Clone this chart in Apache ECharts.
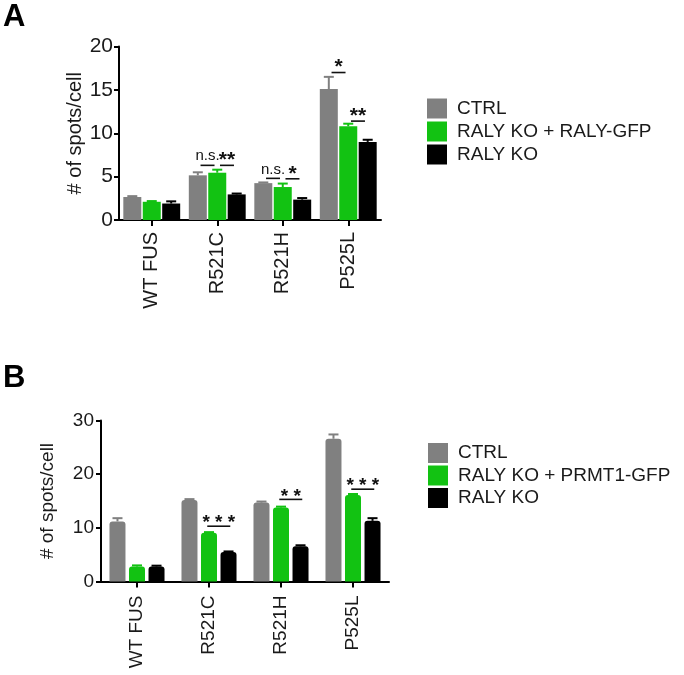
<!DOCTYPE html>
<html>
<head>
<meta charset="utf-8">
<script src="https://cdn.jsdelivr.net/npm/echarts@6/dist/echarts.min.js"></script>
<style>
html,body{margin:0;padding:0;background:#fff;}
#chart{width:684px;height:675px;}
</style>
</head>
<body>
<div id="chart"></div>
<script>
// ---------- data ----------
const categories = ['WT FUS', 'R521C', 'R521H', 'P525L'];

// Panel A
const ctrlA = [2.65, 5.15, 4.25, 15.1];
const ctrlAErr = [0.1, 0.35, 0.08, 1.4];
const rescueA = [2.1, 5.45, 3.8, 10.8];
const rescueAErr = [0.08, 0.35, 0.4, 0.3];
const koA = [1.9, 2.95, 2.35, 9.0];
const koAErr = [0.25, 0.1, 0.18, 0.25];
const yTicksA = { min: 0, max: 20, interval: 5 };
const legendA = ['CTRL', 'RALY KO + RALY-GFP', 'RALY KO'];
const sigACat = [1, 1, 2, 2, 3, 3];
const sigAFrom = [0, 1, 0, 1, 0, 1];
const sigAY = [6.3, 6.3, 4.8, 4.75, 17.0, 11.4];
const sigAText = ['n.s.', '**', 'n.s.', '*', '*', '**'];

// Panel B
const ctrlB = [11.2, 15.2, 14.7, 26.6];
const ctrlBErr = [0.6, 0.15, 0.2, 0.8];
const rescueB = [2.8, 9.1, 13.8, 16.1];
const rescueBErr = [0.2, 0.1, 0.15, 0.2];
const koB = [2.8, 5.5, 6.55, 11.3];
const koBErr = [0.15, 0.1, 0.2, 0.5];
const yTicksB = { min: 0, max: 30, interval: 10 };
const legendB = ['CTRL', 'RALY KO + PRMT1-GFP', 'RALY KO'];
const sigBCat = [1, 2, 3];
const sigBFrom = [1, 1, 1];
const sigBY = [10.3, 15.3, 17.2];
const sigBText = ['* * *', '* *', '* * *'];

// ---------- styles ----------
const GRAY = '#808080', GREEN = '#12c212', BLACK = '#000000';
const FONT = '"Liberation Sans", Arial, sans-serif';
const TXT = '#1a1a1a';
const BW_A = 18, GAP_A = 0.08, PITCH_A = BW_A * (1 + GAP_A);
const BW_B = 16, GAP_B = 0.22, PITCH_B = BW_B * (1 + GAP_B);

function errSeries(axis, vals, errs, slot, pitch, color, capHalf) {
  return {
    type: 'custom', xAxisIndex: axis, yAxisIndex: axis, silent: true, z: 1,
    data: vals.map((v, i) => [i, v, errs[i]]),
    renderItem: function (params, api) {
      const base = api.coord([api.value(0), api.value(1)]);
      const top = api.coord([api.value(0), api.value(1) + api.value(2)]);
      const x = base[0] + (slot - 1) * pitch;
      return {
        type: 'group', children: [
          { type: 'line', shape: { x1: x, y1: base[1], x2: x, y2: top[1] }, style: { stroke: color, lineWidth: 2 } },
          { type: 'line', shape: { x1: x - capHalf, y1: top[1], x2: x + capHalf, y2: top[1] }, style: { stroke: color, lineWidth: 2 } }
        ]
      };
    }
  };
}

function sigSeries(axis, cats, froms, ys, texts, pitch, halfLen, starSize, starLift) {
  return {
    type: 'custom', xAxisIndex: axis, yAxisIndex: axis, silent: true, z: 5,
    data: cats.map((c, i) => [c, ys[i]]),
    renderItem: function (params, api) {
      const i = params.dataIndex;
      const p = api.coord([api.value(0), api.value(1)]);
      const mid = p[0] + (froms[i] - 0.5) * pitch;
      const t = texts[i];
      const isNS = t === 'n.s.';
      return {
        type: 'group', children: [
          { type: 'line', shape: { x1: mid - halfLen, y1: p[1], x2: mid + halfLen, y2: p[1] }, style: { stroke: '#111', lineWidth: 1.6 } },
          {
            type: 'text', x: mid, y: isNS ? p[1] - 9 : p[1] - starLift,
            style: {
              text: t, fill: '#111', align: 'center', verticalAlign: 'middle',
              fontFamily: FONT, fontSize: isNS ? 15 : starSize, fontWeight: isNS ? 'normal' : 'bold'
            }
          }
        ]
      };
    }
  };
}

function barSeries(axis, name, vals, color, bw, gap, radius) {
  return {
    type: 'bar', name: name, xAxisIndex: axis, yAxisIndex: axis, data: vals,
    barWidth: bw, barGap: (gap * 100) + '%', z: 2,
    itemStyle: { color: color, borderRadius: radius }
  };
}

const axisLineStyle = { show: true, lineStyle: { color: '#000', width: 2 } };

const option = {
  animation: false,
  backgroundColor: '#fff',
  textStyle: { fontFamily: FONT },
  graphic: [
    { type: 'text', left: 3, top: 2, style: { text: 'A', fontFamily: FONT, fontWeight: 'bold', fontSize: 31, fill: '#000' } },
    { type: 'text', left: 3, top: 363, style: { text: 'B', fontFamily: FONT, fontWeight: 'bold', fontSize: 31, fill: '#000' } }
  ],
  legend: [
    {
      data: legendA, orient: 'vertical', left: 427, top: 98.5, padding: 0, itemWidth: 20, itemHeight: 20, itemGap: 3,
      icon: 'rect', selectedMode: false,
      textStyle: { fontSize: 19, color: TXT, fontFamily: FONT, padding: [0, 0, 0, 5] }
    },
    {
      data: legendB, orient: 'vertical', left: 428, top: 443, padding: 0, itemWidth: 20, itemHeight: 20, itemGap: 2.5,
      icon: 'rect', selectedMode: false,
      textStyle: { fontSize: 19, color: TXT, fontFamily: FONT, padding: [0, 0, 0, 5] }
    }
  ],
  grid: [
    { left: 119, top: 46.5, width: 262, height: 173.5 },
    { left: 101, top: 420.5, width: 288, height: 161 }
  ],
  xAxis: [
    {
      type: 'category', gridIndex: 0, data: categories,
      axisLine: axisLineStyle,
      axisTick: { show: true, alignWithLabel: true, length: 6, lineStyle: { color: '#000', width: 2 } },
      axisLabel: { rotate: 90, margin: 12, fontSize: 20, color: TXT, fontFamily: FONT, interval: 0 }
    },
    {
      type: 'category', gridIndex: 1, data: categories,
      axisLine: axisLineStyle,
      axisTick: { show: true, alignWithLabel: true, length: 6, lineStyle: { color: '#000', width: 2 } },
      axisLabel: { rotate: 90, margin: 14, fontSize: 19, color: TXT, fontFamily: FONT, interval: 0 }
    }
  ],
  yAxis: [
    {
      type: 'value', gridIndex: 0, min: yTicksA.min, max: yTicksA.max, interval: yTicksA.interval,
      name: '# of spots/cell', nameLocation: 'middle', nameGap: 34, nameRotate: 90,
      nameTextStyle: { fontSize: 20, color: TXT, fontFamily: FONT },
      axisLine: axisLineStyle,
      axisTick: { show: true, length: 5, lineStyle: { color: '#000', width: 2 } },
      axisLabel: { fontSize: 21, margin: 6, color: TXT, fontFamily: FONT },
      splitLine: { show: false }
    },
    {
      type: 'value', gridIndex: 1, min: yTicksB.min, max: yTicksB.max, interval: yTicksB.interval,
      name: '# of spots/cell', nameLocation: 'middle', nameGap: 44, nameRotate: 90,
      nameTextStyle: { fontSize: 19, color: TXT, fontFamily: FONT },
      axisLine: axisLineStyle,
      axisTick: { show: true, length: 5, lineStyle: { color: '#000', width: 2 } },
      axisLabel: { fontSize: 19, margin: 7, color: TXT, fontFamily: FONT },
      splitLine: { show: false }
    }
  ],
  series: [
    barSeries(0, legendA[0], ctrlA, GRAY, BW_A, GAP_A, 0),
    barSeries(0, legendA[1], rescueA, GREEN, BW_A, GAP_A, 0),
    barSeries(0, legendA[2], koA, BLACK, BW_A, GAP_A, 0),
    errSeries(0, ctrlA, ctrlAErr, 0, PITCH_A, GRAY, 5),
    errSeries(0, rescueA, rescueAErr, 1, PITCH_A, GREEN, 5),
    errSeries(0, koA, koAErr, 2, PITCH_A, BLACK, 5),
    sigSeries(0, sigACat, sigAFrom, sigAY, sigAText, PITCH_A, 7, 21, 5),

    barSeries(1, legendB[0], ctrlB, GRAY, BW_B, GAP_B, [3, 3, 0, 0]),
    barSeries(1, legendB[1], rescueB, GREEN, BW_B, GAP_B, [3, 3, 0, 0]),
    barSeries(1, legendB[2], koB, BLACK, BW_B, GAP_B, [3, 3, 0, 0]),
    errSeries(1, ctrlB, ctrlBErr, 0, PITCH_B, GRAY, 5),
    errSeries(1, rescueB, rescueBErr, 1, PITCH_B, GREEN, 5),
    errSeries(1, koB, koBErr, 2, PITCH_B, BLACK, 5),
    sigSeries(1, sigBCat, sigBFrom, sigBY, sigBText, PITCH_B, 11.5, 19, 3)
  ]
};

const chart = echarts.init(document.getElementById('chart'), null, { renderer: 'canvas' });
chart.setOption(option);
</script>
</body>
</html>
